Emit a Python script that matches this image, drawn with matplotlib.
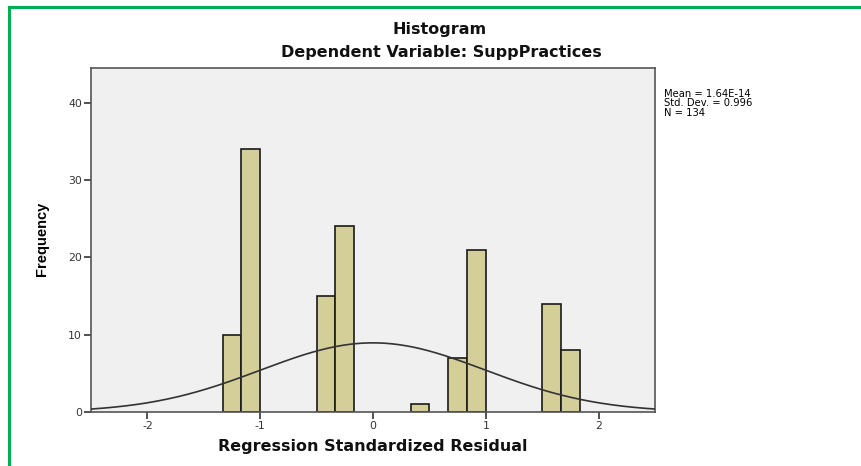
import numpy as np
import matplotlib.pyplot as plt
from matplotlib.lines import Line2D

# histogram of standardized residuals (bin width 1/6)
bin_left = [-8/6, -7/6, -3/6, -2/6, 2/6, 4/6, 5/6, 9/6, 10/6]
counts = [10, 34, 15, 24, 1, 7, 21, 14, 8]
bin_width = 1/6

mean_val = 1.64e-14
std_val = 0.996
n_obs = 134
stats_lines = ['Mean = 1.64E-14', 'Std. Dev. = 0.996', 'N = 134']

x_ticks = [-2, -1, 0, 1, 2]
y_ticks = [0, 10, 20, 30, 40]

plt.rcParams['font.family'] = ['DejaVu Sans']
plt.rcParams['axes.unicode_minus'] = False

fig = plt.figure(figsize=(8.61, 4.66), dpi=100)
W, H = 861, 466
ax = fig.add_axes([91 / W, 1 - 412 / H, (655 - 91) / W, (412 - 68) / H])

ax.set_facecolor('#f0f0f0')
ax.bar(bin_left, counts, width=bin_width, align='edge',
       color='#d4cf98', edgecolor='#1a1a1a', linewidth=1.2, zorder=2)

xs = np.linspace(-2.5, 2.5, 400)
curve = n_obs * bin_width / (std_val * np.sqrt(2 * np.pi)) * np.exp(-0.5 * ((xs - mean_val) / std_val) ** 2)
ax.plot(xs, curve, color='#333333', linewidth=1.2, zorder=3)

ax.set_xlim(-2.5, 2.5)
ax.set_ylim(0, 44.5)
ax.set_xticks(x_ticks)
ax.set_yticks(y_ticks)
ax.tick_params(axis='both', labelsize=7.8, length=5, width=1.2, color='#333333',
               labelcolor='#333333', pad=1.5)
for s in ax.spines.values():
    s.set_color('#555555')
    s.set_linewidth(1.2)

fig.text(373 / W, 1 - 451 / H, 'Regression Standardized Residual', ha='center', va='baseline',
         fontsize=11.5, fontweight='bold', color='#111111')
fig.text(42 / W, 1 - 239 / H, 'Frequency', rotation=90, ha='center', va='center',
         fontsize=10.5, fontweight='bold', family=['Liberation Sans Narrow', 'Liberation Sans'])

fig.text(440 / W, 1 - 34 / H, 'Histogram', ha='center', va='baseline',
         fontsize=11.5, fontweight='bold', color='#111111')
fig.text(441 / W, 1 - 57 / H, 'Dependent Variable: SuppPractices', ha='center', va='baseline',
         fontsize=11.5, fontweight='bold', color='#111111')

for i, line in enumerate(stats_lines):
    fig.text(664 / W, 1 - (97 + 9.5 * i) / H, line, ha='left', va='baseline', fontsize=7.2)

# green frame (top and left edges)
green = '#00b050'
fig.add_artist(Line2D([8.5 / W, 1], [1 - 7 / H, 1 - 7 / H], color=green, linewidth=2.2, transform=fig.transFigure))
fig.add_artist(Line2D([8.5 / W, 8.5 / W], [0, 1 - 7 / H], color=green, linewidth=2.2, transform=fig.transFigure))

fig.savefig('out.png', dpi=100)
